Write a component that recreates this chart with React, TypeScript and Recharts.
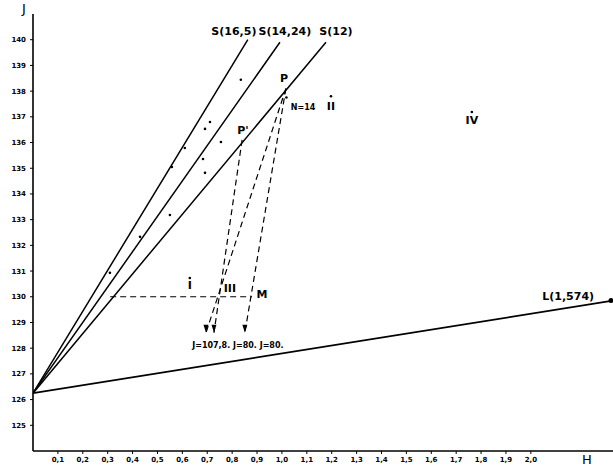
import { ComposedChart, Line, Scatter, XAxis, YAxis } from "recharts";

// Abaque J / H : droites S(n) issues de J = 126,25 et droite L

const hTicks = [0.1, 0.2, 0.3, 0.4, 0.5, 0.6, 0.7, 0.8, 0.9, 1.0, 1.1, 1.2, 1.3, 1.4, 1.5, 1.6, 1.7, 1.8, 1.9, 2.0];
const jTicks = [125, 126, 127, 128, 129, 130, 131, 132, 133, 134, 135, 136, 137, 138, 139, 140];

const s165 = [{ h: 0, j: 126.25 }, { h: 0.863, j: 140.0 }];
const s1424 = [{ h: 0, j: 126.25 }, { h: 0.992, j: 139.9 }];
const s12 = [{ h: 0, j: 126.25 }, { h: 1.177, j: 139.9 }];
const lLine = [{ h: 0, j: 126.25 }, { h: 2.33, j: 129.85 }];

const dashM = [{ h: 0.31, j: 130 }, { h: 0.88, j: 130 }];
const dashP1 = [{ h: 1.016, j: 138.1 }, { h: 0.695, j: 128.6 }];
const dashP2 = [{ h: 1.016, j: 138.1 }, { h: 0.851, j: 128.6 }];
const dashPp = [{ h: 0.84, j: 136.1 }, { h: 0.727, j: 128.6 }];

const points = [
  { h: 0.835, j: 138.44 },
  { h: 0.711, j: 136.8 },
  { h: 0.691, j: 136.53 },
  { h: 0.755, j: 136.02 },
  { h: 0.683, j: 135.36 },
  { h: 0.691, j: 134.82 },
  { h: 0.61, j: 135.79 },
  { h: 0.558, j: 135.05 },
  { h: 0.55, j: 133.18 },
  { h: 0.43, j: 132.33 },
  { h: 0.309, j: 130.93 },
  { h: 0.63, j: 130.73 },
  { h: 1.197, j: 137.8 },
  { h: 1.763, j: 137.19 },
  { h: 1.018, j: 137.75 },
];

const labels = [
  { h: 0.807, j: 140.3, text: "S(16,5)" },
  { h: 1.012, j: 140.3, text: "S(14,24)" },
  { h: 1.217, j: 140.3, text: "S(12)" },
  { h: 1.008, j: 138.5, text: "P" },
  { h: 0.843, j: 136.45, text: "P'" },
  { h: 1.085, j: 137.38, text: "N=14" },
  { h: 1.197, j: 137.42, text: "II" },
  { h: 1.763, j: 136.84, text: "IV" },
  { h: 0.63, j: 130.42, text: "I" },
  { h: 0.791, j: 130.34, text: "III" },
  { h: 0.92, j: 130.07, text: "M" },
  { h: 0.823, j: 128.1, text: "J=107,8. J=80. J=80." },
  { h: 2.15, j: 130.0, text: "L(1,574)" },
];

const FONT = "DejaVu Sans, sans-serif";

const arrowDot = (last: number) => (p: any) => {
  if (p.index !== last) return <g key={p.index} />;
  return (
    <polygon
      key={p.index}
      points={`${p.cx - 2.5},${p.cy - 8} ${p.cx + 2.5},${p.cy - 8} ${p.cx},${p.cy}`}
      fill="#000"
    />
  );
};

const endDot = (p: any) =>
  p.index === 1 ? <circle key={p.index} cx={p.cx - 2} cy={p.cy} r={2.5} fill="#000" /> : <g key={p.index} />;

function LabelShape(p: any) {
  const t = p.payload.text as string;
  const small = t === "N=14" || t.startsWith("J=");
  return (
    <text
      x={p.cx}
      y={p.cy}
      textAnchor="middle"
      dominantBaseline="central"
      fontFamily={FONT}
      fontWeight="bold"
      fontSize={small ? 8 : 11}
      fill="#000"
    >
      {t}
    </text>
  );
}

const fmtH = (v: number) => v.toFixed(1).replace(".", ",");

export default function App() {
  return (
    <div style={{ position: "absolute", left: 0, top: 0, width: 613, height: 468, background: "#fff" }}>
      <ComposedChart width={613} height={468} margin={{ top: 14, right: 0, bottom: 0, left: 0 }}>
        <XAxis
          type="number"
          dataKey="h"
          domain={[0, 2.33]}
          ticks={hTicks}
          tickFormatter={fmtH}
          height={17}
          tickSize={3}
          tickMargin={3}
          interval={0}
          allowDataOverflow
          axisLine={{ stroke: "#000", strokeWidth: 1.6 }}
          tickLine={{ stroke: "#000" }}
          tick={{ fill: "#000", fontSize: 7, fontFamily: FONT, fontWeight: "bold" }}
        />
        <YAxis
          type="number"
          dataKey="j"
          domain={[124, 141]}
          ticks={jTicks}
          width={33}
          tickSize={3}
          tickMargin={4}
          interval={0}
          allowDataOverflow
          axisLine={{ stroke: "#000", strokeWidth: 1.6 }}
          tickLine={{ stroke: "#000" }}
          tick={{ fill: "#000", fontSize: 7, fontFamily: FONT, fontWeight: "bold" }}
        />
        <Line data={s165} dataKey="j" stroke="#000" strokeWidth={1.5} dot={false} isAnimationActive={false} />
        <Line data={s1424} dataKey="j" stroke="#000" strokeWidth={1.5} dot={false} isAnimationActive={false} />
        <Line data={s12} dataKey="j" stroke="#000" strokeWidth={1.5} dot={false} isAnimationActive={false} />
        <Line data={lLine} dataKey="j" stroke="#000" strokeWidth={1.8} dot={endDot} isAnimationActive={false} />
        <Line data={dashM} dataKey="j" stroke="#000" strokeWidth={1.2} strokeDasharray="6 4" dot={false} isAnimationActive={false} />
        <Line data={dashP1} dataKey="j" stroke="#000" strokeWidth={1.2} strokeDasharray="6 4" dot={arrowDot(1)} isAnimationActive={false} />
        <Line data={dashP2} dataKey="j" stroke="#000" strokeWidth={1.2} strokeDasharray="6 4" dot={arrowDot(1)} isAnimationActive={false} />
        <Line data={dashPp} dataKey="j" stroke="#000" strokeWidth={1.2} strokeDasharray="6 4" dot={arrowDot(1)} isAnimationActive={false} />
        <Scatter
          data={points}
          dataKey="j"
          fill="#000"
          isAnimationActive={false}
          shape={(p: any) => <circle cx={p.cx} cy={p.cy} r={1.3} fill="#000" />}
        />
        <Scatter data={labels} dataKey="j" isAnimationActive={false} shape={LabelShape} />
      </ComposedChart>
      <div style={{ position: "absolute", left: 22, top: 1, fontFamily: FONT, fontSize: 13, color: "#000" }}>J</div>
      <div style={{ position: "absolute", left: 582, top: 452, fontFamily: FONT, fontSize: 13, color: "#000" }}>H</div>
    </div>
  );
}
